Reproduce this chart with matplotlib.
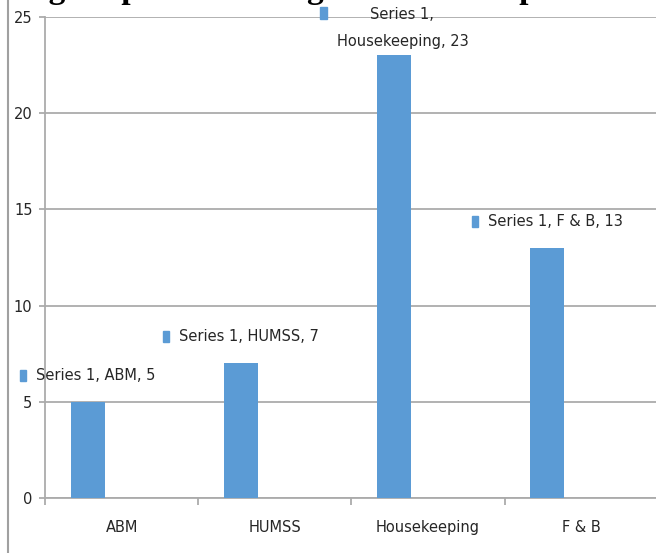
import matplotlib.pyplot as plt
from matplotlib.lines import Line2D
from matplotlib.patches import Rectangle
from matplotlib.offsetbox import AnnotationBbox, HPacker, TextArea, DrawingArea
import numpy as np

# data
categories = ['ABM', 'HUMSS', 'Housekeeping', 'F & B']
series_1 = [5, 7, 23, 13]
series_2 = [0, 0, 0, 0]
series_3 = [0, 0, 0, 0]
y_ticks = [0, 5, 10, 15, 20, 25]

blue = '#5b9bd5'
gray = '#ababab'
text_col = '#262626'
font = ['Liberation Sans Narrow', 'DejaVu Sans']

plt.rcParams['font.family'] = font

fig = plt.figure(figsize=(6.56, 5.53), dpi=100)
ax = fig.add_axes([45 / 656, 55 / 553, 613 / 656, 481 / 553])

# clustered bars, Excel style (3 series, gap width 150%)
x = np.arange(len(categories))
w = 1 / 4.5
ax.bar(x - w, series_1, w, color=blue, zorder=3)
ax.bar(x, series_2, w, color=blue, zorder=3)
ax.bar(x + w, series_3, w, color=blue, zorder=3)

ax.set_xlim(-0.5, len(categories) - 0.5)
ax.set_ylim(0, 25)
ax.set_yticks(y_ticks)
ax.set_xticks(x)
ax.set_xticklabels(categories)
ax.set_xticks(np.arange(-0.5, len(categories), 1), minor=True)

ax.yaxis.grid(True, color=gray, lw=1.3, zorder=0)
for s in ['top', 'right']:
    ax.spines[s].set_visible(False)
for s in ['left', 'bottom']:
    ax.spines[s].set_color(gray)
    ax.spines[s].set_linewidth(1.3)

ax.tick_params(axis='y', length=4, width=1.3, color=gray, pad=5, labelsize=10.5, labelcolor=text_col)
ax.tick_params(axis='x', which='major', length=0, pad=16, labelsize=10.5, labelcolor=text_col)
ax.tick_params(axis='x', which='minor', length=5, width=1.3, color=gray)

# data labels with legend key
def add_label(xpos, val, text, dy, align):
    key = DrawingArea(5, 8)
    key.add_artist(Rectangle((0, 0), 5, 8, color=blue))
    txt = TextArea(text, textprops=dict(color=text_col, fontsize=10.5, family=font,
                                        multialignment='center', linespacing=2.0))
    box = HPacker(children=[key, txt], align=align, pad=0, sep=7)
    ab = AnnotationBbox(box, (xpos, val), xybox=(0, dy), boxcoords='offset points',
                        frameon=False, box_alignment=(0.5, 0.5), annotation_clip=False)
    ax.add_artist(ab)

for i, (c, v) in enumerate(zip(categories, series_1)):
    if c == 'Housekeeping':
        add_label(x[i] - w, v, 'Series 1,\n%s, %d' % (c, v), 19.5, 'top')
    else:
        add_label(x[i] - w, v, 'Series 1, %s, %d' % (c, v), 19, 'center')

# page border on the left and cut-off caption at the top
fig.add_artist(Line2D([8 / 656, 8 / 656], [0, 1], color='#a0a0a0', lw=1.5))
fig.text(19 / 656, 1 + 2 / 553, 'Figure presentation gathered from preferred strand',
         family='Liberation Serif', weight='bold', fontsize=24, va='baseline', color='black')

fig.savefig('out.png', dpi=100)
